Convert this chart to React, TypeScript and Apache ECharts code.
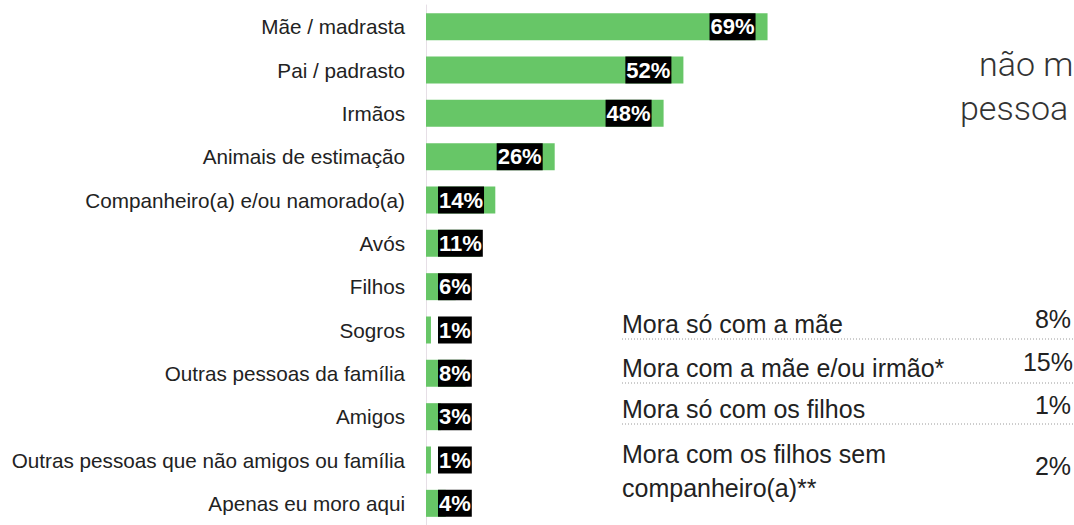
import React, { useEffect, useRef } from "react";
import * as echarts from "echarts";

const categories = [
  "Mãe / madrasta",
  "Pai / padrasto",
  "Irmãos",
  "Animais de estimação",
  "Companheiro(a) e/ou namorado(a)",
  "Avós",
  "Filhos",
  "Sogros",
  "Outras pessoas da família",
  "Amigos",
  "Outras pessoas que não amigos ou família",
  "Apenas eu moro aqui",
];
const values = [69, 52, 48, 26, 14, 11, 6, 1, 8, 3, 1, 4];

const headerLines = ["não m", "pessoa"];

const tableLabels = [
  ["Mora só com a mãe"],
  ["Mora com a mãe e/ou irmão*"],
  ["Mora só com os filhos"],
  ["Mora com os filhos sem", "companheiro(a)**"],
];
const tableValues = ["8%", "15%", "1%", "2%"];

const FONT = "'Liberation Sans', Arial, Helvetica, sans-serif";

export default function App() {
  const ref = useRef<HTMLDivElement>(null);

  useEffect(() => {
    if (!ref.current) return;
    const chart = echarts.init(ref.current, null, { renderer: "svg" });

    const graphics: any[] = [];
    // header text (cropped in the reference)
    const headerPos = [
      { x: 979, y: 64 },
      { x: 960, y: 108 },
    ];
    headerLines.forEach((t, i) => {
      graphics.push({
        type: "text",
        x: headerPos[i].x,
        y: headerPos[i].y,
        style: {
          text: t,
          fill: "#333",
          font: `300 34px Roboto, ${FONT}`,
          align: "left",
          verticalAlign: "middle",
        },
      });
    });

    // table
    const rowTextY = [324, 368, 409, 454];
    const rowValY = [319, 362, 405, 466];
    const dotY = [339, 383, 424];
    tableLabels.forEach((lines, i) => {
      lines.forEach((line, j) => {
        graphics.push({
          type: "text",
          x: 622,
          y: rowTextY[i] + j * 34,
          style: {
            text: line,
            fill: "#222",
            font: `25px ${FONT}`,
            align: "left",
            verticalAlign: "middle",
          },
        });
      });
      const wide = tableValues[i].length > 2;
      graphics.push({
        type: "text",
        x: wide ? 1073 : 1053,
        y: rowValY[i],
        style: {
          text: tableValues[i],
          fill: "#222",
          font: `25px ${FONT}`,
          align: wide ? "right" : "center",
          verticalAlign: "middle",
        },
      });
    });
    dotY.forEach((y) => {
      graphics.push({
        type: "line",
        shape: { x1: 622, y1: y, x2: 1074, y2: y },
        style: { stroke: "#9a9a9a", lineWidth: 1, lineDash: [1, 2] },
      });
    });

    chart.setOption({
      animation: false,
      grid: { left: 426, top: 5, width: 495, height: 529.2 },
      xAxis: {
        type: "value",
        min: 0,
        max: 100,
        show: false,
      },
      yAxis: {
        type: "category",
        data: categories,
        inverse: true,
        offset: 4,
        axisTick: { show: false },
        axisLine: { show: true, lineStyle: { color: "#e6dfe6", width: 1 } },
        axisLabel: {
          margin: 17,
          color: "#222",
          fontSize: 20.7,
          fontFamily: FONT,
        },
      },
      series: [
        {
          type: "bar",
          barWidth: 27,
          itemStyle: { color: "#67c667" },
          data: values.map((v) => ({
            value: v,
            label: { position: v >= 20 ? "insideRight" : "insideLeft" },
          })),
          label: {
            show: true,
            distance: 12,
            formatter: "{c}%",
            color: "#fff",
            fontWeight: "bold",
            fontSize: 22,
            fontFamily: FONT,
            backgroundColor: "#000",
            lineHeight: 27,
            padding: [0, 1],
          },
        },
      ],
      graphic: graphics,
    });

    return () => chart.dispose();
  }, []);

  return (
    <div
      ref={ref}
      style={{ position: "absolute", left: 0, top: 0, width: 1074, height: 525, background: "#fff" }}
    />
  );
}
